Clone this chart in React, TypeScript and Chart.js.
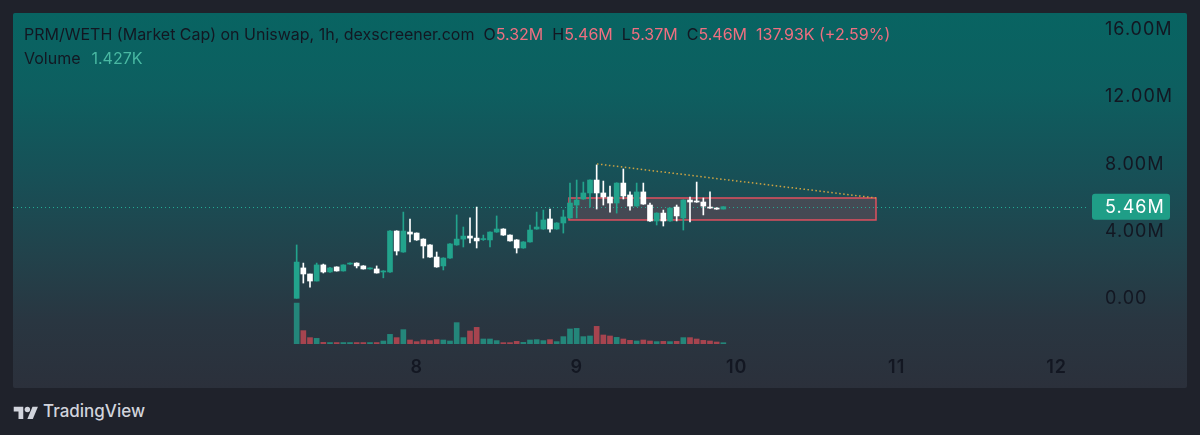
import React, { useEffect, useRef } from 'react';
import { Chart, registerables } from 'chart.js';

Chart.register(...registerables);

// Hours since day 7 00:00 (one candle per hour)
const candleHours = [6, 7, 8, 9, 10, 11, 12, 13, 14, 15, 16, 17, 18, 19, 20, 21, 22, 23, 24, 25, 26, 27, 28, 29, 30, 31, 32, 33, 34, 35, 36, 37, 38, 39, 40, 41, 42, 43, 44, 45, 46, 47, 48, 49, 50, 51, 52, 53, 54, 55, 56, 57, 58, 59, 60, 61, 62, 63, 64, 65, 66, 67, 68, 69, 70];

// Market cap, millions
const opens = [0.00, 1.81, 1.45, 1.03, 1.99, 1.57, 1.87, 1.63, 2.04, 2.10, 1.93, 1.75, 1.75, 1.57, 1.57, 4.01, 2.76, 3.95, 3.89, 3.53, 3.18, 2.46, 1.93, 2.40, 3.18, 3.53, 3.71, 3.59, 3.50, 3.48, 3.95, 4.13, 3.77, 3.48, 3.00, 3.36, 4.13, 4.13, 4.73, 4.13, 4.49, 4.79, 5.56, 5.92, 6.28, 7.05, 6.28, 6.04, 5.68, 6.87, 6.16, 5.50, 6.34, 5.56, 4.61, 5.08, 4.61, 5.44, 4.79, 5.86, 5.80, 5.74, 5.44, 5.38, 5.32];
const highs = [3.18, 2.10, 1.45, 2.10, 2.04, 1.84, 1.88, 2.00, 2.12, 2.12, 1.95, 1.82, 1.93, 1.65, 4.03, 4.03, 5.14, 4.73, 3.90, 3.55, 3.20, 2.76, 2.42, 3.26, 4.97, 4.25, 4.79, 5.44, 3.77, 3.97, 4.91, 4.15, 3.79, 3.50, 3.38, 4.37, 5.14, 5.26, 5.32, 4.51, 5.26, 6.87, 7.05, 6.93, 7.07, 7.95, 6.99, 6.69, 6.89, 7.71, 6.34, 6.87, 6.87, 5.68, 5.10, 5.26, 5.40, 5.56, 5.88, 6.04, 6.93, 5.98, 6.34, 5.40, 5.46];
const lows = [0.00, 0.91, 0.67, 1.03, 1.51, 1.55, 1.62, 1.62, 2.02, 1.81, 1.74, 1.74, 1.50, 1.22, 1.55, 2.58, 2.74, 3.36, 3.45, 2.40, 2.44, 1.85, 1.69, 2.38, 3.16, 3.06, 3.30, 3.00, 3.45, 3.06, 3.93, 3.75, 3.40, 2.70, 2.98, 3.34, 4.11, 4.11, 3.95, 4.11, 3.89, 4.77, 4.79, 5.90, 5.44, 5.32, 5.56, 5.14, 5.08, 5.92, 5.26, 5.48, 5.60, 4.59, 4.37, 4.31, 4.59, 4.61, 4.07, 4.55, 5.72, 4.97, 5.36, 5.30, 5.32];
const closes = [2.16, 1.45, 1.03, 1.99, 1.57, 1.81, 1.63, 1.99, 2.10, 1.93, 1.75, 1.81, 1.51, 1.63, 4.01, 2.82, 4.01, 3.83, 3.48, 3.12, 2.46, 1.87, 2.40, 3.24, 3.53, 3.71, 3.59, 3.42, 3.56, 3.95, 4.13, 3.77, 3.42, 3.00, 3.36, 4.07, 4.25, 4.67, 4.13, 4.49, 4.85, 5.68, 5.86, 6.28, 7.05, 6.28, 6.04, 5.68, 6.87, 6.10, 5.50, 6.34, 5.62, 4.61, 5.08, 4.61, 5.38, 4.91, 5.86, 5.74, 5.74, 5.50, 5.38, 5.32, 5.46];
// Volume, thousands
const volumes = [45, 14.7, 7.0, 6.2, 1.8, 1.6, 1.6, 1.6, 1.6, 1.6, 1.6, 1.6, 1.6, 3.3, 10.6, 7.0, 15.8, 4.4, 2.6, 4.4, 3.7, 4.8, 4.4, 3.3, 23.5, 7.0, 14.3, 18.3, 5.5, 5.5, 3.7, 1.5, 1.5, 2.9, 1.8, 4.4, 4.8, 3.7, 4.8, 2.6, 8.1, 16.5, 17.2, 8.1, 8.8, 19.4, 9.9, 8.8, 7.3, 5.5, 4.0, 3.3, 4.4, 3.3, 2.6, 2.9, 2.6, 2.9, 7.0, 7.0, 5.5, 4.0, 3.3, 2.2, 1.427];

const xTickHours = [24, 48, 72, 96, 120];
const xTickLabels = ['8', '9', '10', '11', '12'];
const yTickValues = [0, 4, 8, 12, 16];
const yTickLabels = ['0.00', '4.00M', '8.00M', '12.00M', '16.00M'];

const lastPrice = 5.46;
const lastPriceLabel = '5.46M';
const boxHours = [46.85, 92.9];
const boxPrices = [4.67, 5.98];
const trendHours = [51.05, 92.9];
const trendPrices = [8.01, 5.98];

const UP = '#22a38c';
const DOWN = '#ffffff';
const VOL_UP = '#24867a';
const VOL_DOWN = '#a6444f';
const FONT = 'Inter, "Noto Sans", sans-serif';

const overlayPlugin = {
  id: 'overlays',
  beforeDraw(chart: any) {
    (chart.ctx as any).letterSpacing = '1px';
  },
  beforeDatasetsDraw(chart: any) {
    const { ctx, chartArea, scales } = chart;
    const x = scales.x;
    const y = scales.y;
    ctx.save();
    const bx0 = x.getPixelForValue(boxHours[0]);
    const bx1 = x.getPixelForValue(boxHours[1]);
    const by0 = y.getPixelForValue(boxPrices[1]);
    const by1 = y.getPixelForValue(boxPrices[0]);
    ctx.fillStyle = 'rgba(214, 72, 92, 0.22)';
    ctx.fillRect(bx0, by0, bx1 - bx0, by1 - by0);
    ctx.strokeStyle = '#e0505f';
    ctx.lineWidth = 1.5;
    ctx.strokeRect(bx0, by0, bx1 - bx0, by1 - by0);
    // last price dotted line
    const py = Math.round(y.getPixelForValue(lastPrice)) + 0.5;
    ctx.strokeStyle = '#22ab94';
    ctx.lineWidth = 1;
    ctx.setLineDash([1, 3]);
    ctx.beginPath();
    ctx.moveTo(chartArea.left, py);
    ctx.lineTo(chartArea.right, py);
    ctx.stroke();
    ctx.restore();
  },
  afterDatasetsDraw(chart: any) {
    const { ctx, scales } = chart;
    const x = scales.x;
    const y = scales.y;
    ctx.save();
    ctx.strokeStyle = '#cfa443';
    ctx.lineWidth = 1.5;
    ctx.setLineDash([1.5, 2.5]);
    ctx.beginPath();
    ctx.moveTo(x.getPixelForValue(trendHours[0]), y.getPixelForValue(trendPrices[0]));
    ctx.lineTo(x.getPixelForValue(trendHours[1]), y.getPixelForValue(trendPrices[1]));
    ctx.stroke();
    ctx.restore();
  },
  afterDraw(chart: any) {
    const { ctx, chartArea, scales } = chart;
    const y = scales.y;
    const py = y.getPixelForValue(lastPrice);
    ctx.save();
    const bx = chartArea.right + 5;
    const bw = 78;
    const bh = 26;
    ctx.fillStyle = '#1f9e87';
    ctx.beginPath();
    (ctx as any).roundRect(bx, py - bh / 2, bw, bh, 3);
    ctx.fill();
    ctx.fillStyle = '#ffffff';
    ctx.font = `18px ${FONT}`;
    (ctx as any).letterSpacing = '1px';
    ctx.textBaseline = 'middle';
    ctx.textAlign = 'left';
    ctx.fillText(lastPriceLabel, chartArea.right + 18, py + 1);
    ctx.restore();
  },
};

export default function App() {
  const canvasRef = useRef<HTMLCanvasElement | null>(null);

  useEffect(() => {
    const canvas = canvasRef.current;
    if (!canvas) return;
    const candleColors = opens.map((o, i) => (closes[i] >= o ? UP : DOWN));
    const volColors = opens.map((o, i) => (closes[i] >= o ? VOL_UP : VOL_DOWN));
    const chart = new Chart(canvas, {
      type: 'bar',
      data: {
        datasets: [
          {
            label: 'Volume',
            data: candleHours.map((h, i) => ({ x: h, y: volumes[i] })),
            yAxisID: 'yv',
            backgroundColor: volColors,
            barThickness: 5,
            grouped: false,
            minBarLength: 1,
            order: 3,
          } as any,
          {
            label: 'Wicks',
            data: candleHours.map((h, i) => ({ x: h, y: [lows[i], highs[i]] })),
            yAxisID: 'y',
            backgroundColor: candleColors,
            barThickness: 1,
            grouped: false,
            minBarLength: 1,
            order: 2,
          } as any,
          {
            label: 'Candles',
            data: candleHours.map((h, i) => ({ x: h, y: [opens[i], closes[i]] })),
            yAxisID: 'y',
            backgroundColor: candleColors,
            barThickness: 5,
            grouped: false,
            minBarLength: 1,
            order: 1,
          } as any,
        ],
      },
      options: {
        animation: false,
        responsive: false,
        maintainAspectRatio: false,
        layout: { padding: 0 },
        plugins: { legend: { display: false }, tooltip: { enabled: false } },
        scales: {
          x: {
            type: 'linear',
            min: -36.55,
            max: 124.55,
            offset: false,
            grid: { display: false, drawTicks: false },
            border: { display: false },
            afterBuildTicks: (s: any) => {
              s.ticks = xTickHours.map((v) => ({ value: v }));
            },
            afterFit: (s: any) => {
              s.height = 44;
              s.paddingLeft = 0;
              s.paddingRight = 0;
            },
            ticks: {
              autoSkip: false,
              maxRotation: 0,
              padding: 13,
              color: '#131722',
              font: { size: 18, weight: '600', family: FONT },
              callback: (_v: any, i: number) => xTickLabels[i],
            },
          },
          y: {
            type: 'linear',
            position: 'right',
            min: -2.724,
            max: 17.008,
            grid: { display: false, drawTicks: false },
            border: { display: false },
            afterBuildTicks: (s: any) => {
              s.ticks = yTickValues.map((v) => ({ value: v }));
            },
            afterFit: (s: any) => {
              s.width = 100;
              s.paddingTop = 0;
              s.paddingBottom = 0;
            },
            ticks: {
              autoSkip: false,
              padding: 18,
              color: '#131722',
              font: { size: 18, family: FONT },
              callback: (_v: any, i: number) => yTickLabels[i],
            },
          },
          yv: {
            type: 'linear',
            display: false,
            min: 0,
            max: 364,
          },
        },
      } as any,
      plugins: [overlayPlugin],
    });
    return () => chart.destroy();
  }, []);

  const pink = '#ef6f80';
  return (
    <div style={{ position: 'absolute', left: 0, top: 0, width: 1200, height: 435, background: '#1f222b', overflow: 'hidden', fontFamily: FONT }}>
      <div
        style={{
          position: 'absolute',
          left: 13,
          top: 13,
          width: 1174,
          height: 375,
          borderRadius: 2,
          background: 'linear-gradient(to bottom, #086462 0%, #0d5f60 20%, #184f56 45%, #22424b 65%, #293641 82%, #2b303b 100%)',
        }}
      >
        <canvas ref={canvasRef} width={1174} height={375} style={{ position: 'absolute', left: 0, top: 0, width: 1174, height: 375 }} />
        <div style={{ position: 'absolute', left: 11, top: 11, fontSize: 16, lineHeight: '20px', color: '#131722', whiteSpace: 'nowrap' }}>
          <span>PRM/WETH (Market Cap) on Uniswap, 1h, dexscreener.com</span>
          <span style={{ marginLeft: 9 }}>O</span><span style={{ color: pink }}>5.32M</span>
          <span style={{ marginLeft: 9 }}>H</span><span style={{ color: pink }}>5.46M</span>
          <span style={{ marginLeft: 9 }}>L</span><span style={{ color: pink }}>5.37M</span>
          <span style={{ marginLeft: 9 }}>C</span><span style={{ color: pink }}>5.46M</span>
          <span style={{ marginLeft: 9, color: pink }}>137.93K (+2.59%)</span>
        </div>
        <div style={{ position: 'absolute', left: 11, top: 35, fontSize: 16, lineHeight: '20px', color: '#131722', whiteSpace: 'nowrap' }}>
          <span>Volume</span>
          <span style={{ marginLeft: 11, color: '#49b8a2' }}>1.427K</span>
        </div>
      </div>
      <div style={{ position: 'absolute', left: 13, top: 400, height: 22, display: 'flex', alignItems: 'center' }}>
        <svg width="26" height="15" viewBox="0 0 36 22" style={{ display: 'block' }}>
          <path d="M14 22H7V11H0V4h14v18z" fill="#d1d4dc" />
          <circle cx="20" cy="8" r="4" fill="#d1d4dc" />
          <path d="M28 22h-8l7.5-18h8L28 22z" fill="#d1d4dc" />
        </svg>
        <span style={{ marginLeft: 4, fontSize: 17, fontWeight: 500, color: '#d1d4dc', letterSpacing: 0 }}>TradingView</span>
      </div>
    </div>
  );
}
